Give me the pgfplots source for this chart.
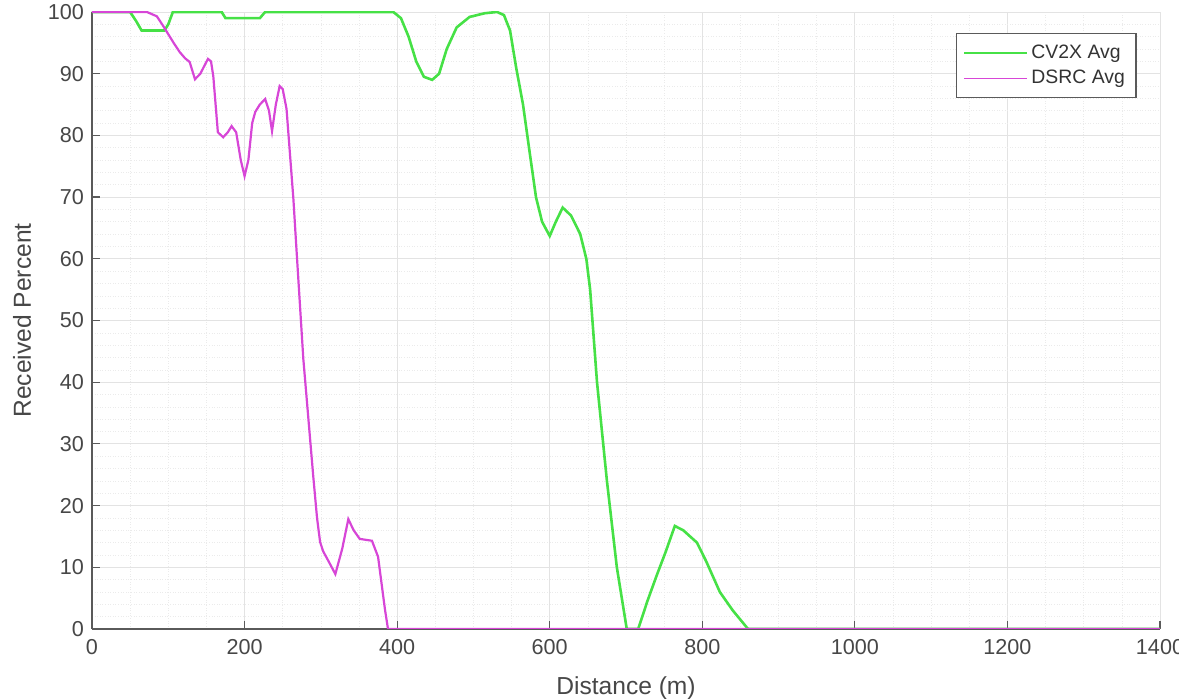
\documentclass[border=0pt]{standalone}
\usepackage{fontspec}
\setmainfont{Liberation Sans}
\usepackage{pgfplots}
\pgfplotsset{compat=1.18}

\definecolor{cvgreen}{RGB}{70,225,70}
\definecolor{dsrcmag}{RGB}{215,70,215}
\definecolor{axgray}{RGB}{90,90,90}

\begin{document}
\begin{tikzpicture}
\useasboundingbox (-46pt,-35pt) rectangle (543.5pt,314.5pt);
\begin{axis}[
    scale only axis,
    width=534pt, height=308.5pt,
    at={(0,0)}, anchor=south west,
    xmin=0, xmax=1400, ymin=0, ymax=100,
    xtick={0,200,...,1400}, ytick={0,10,...,100},
    minor x tick num=3, minor y tick num=4,
    axis x line*=bottom, axis y line*=left,
    axis line style={axgray, line width=0.8pt},
    tick align=inside,
    major tick length=4pt, minor tick length=0pt,
    tick style={axgray, line width=0.6pt},
    grid=both,
    major grid style={gray!22, line width=0.4pt},
    minor grid style={gray!16, line width=0.3pt, densely dotted},
    ticklabel style={font=\fontsize{10.8}{13}\selectfont, text=black!72},
    /pgf/number format/assume math mode=true,
    scaled ticks=false,
    xticklabel style={/pgf/number format/1000 sep={}, yshift=-1.5pt},
    yticklabel style={xshift=-0.5pt},
    xlabel={Distance (m)},
    ylabel={Received Percent},
    label style={font=\fontsize{12.3}{14}\selectfont, text=black!72},
    xlabel style={yshift=-4.5pt},
    ylabel style={yshift=1.5pt},
    legend style={at={(0.978,0.966)}, anchor=north east,
        draw=axgray, line width=0.6pt, font=\fontsize{9.7}{12}\selectfont,
        text=black!80, row sep=0.5pt, inner sep=3.5pt},
    legend cell align={left},
    legend image code/.code={\draw[#1, line width=0.8pt] (0cm,0cm) -- (1.1cm,0cm);},
]

% CV2X average
\addplot[cvgreen, line width=1.3pt] coordinates {
(0,100) (50,100) (58,98.5) (65,97) (95,97) (100,98) (106,100) (170,100) (175,99)
(220,99) (227,100) (395,100) (405,99) (415,96) (425,92) (435,89.5) (446,89)
(455,90) (465,94) (478,97.5) (495,99.2) (515,99.8) (531,100) (540,99.5) (548,97)
(556,91) (565,85) (574,77) (582,70) (590,66) (600,63.7) (608,66) (617,68.3)
(628,67) (640,64) (648,60) (653,55) (662,40) (675,24) (688,10) (701,0) (716,0)
(728,4.5) (740,8.6) (752,12.5) (764,16.7) (775,16) (793,14) (805,11) (823,6)
(840,3) (860,0) (1400,0)
};

% DSRC average
\addplot[dsrcmag, line width=1.1pt] coordinates {
(0,100) (72,100) (85,99.3) (93,97.8) (98,96.8) (107,95) (115,93.5) (122,92.5)
(128,91.9) (135,89.1) (142,90) (152,92.4) (156,92) (159,89.6) (165,80.5)
(172,79.7) (178,80.5) (183,81.5) (189,80.5) (195,76) (200,73.4) (205,76)
(210,82) (214,83.8) (220,85) (227,85.9) (232,84) (236,80.7) (241,85) (246,88)
(250,87.5) (255,84.3) (264,69.7) (268,61.6) (277,43.8) (290,24.8) (295,18)
(299,14.1) (303,12.6) (310,11) (319,8.9) (328,13) (336,17.8) (343,16)
(351,14.6) (367,14.3) (375,11.7) (384,3.2) (388,0) (1400,0)
};

\legend{CV2X Avg, DSRC Avg}
\end{axis}
\end{tikzpicture}
\end{document}
